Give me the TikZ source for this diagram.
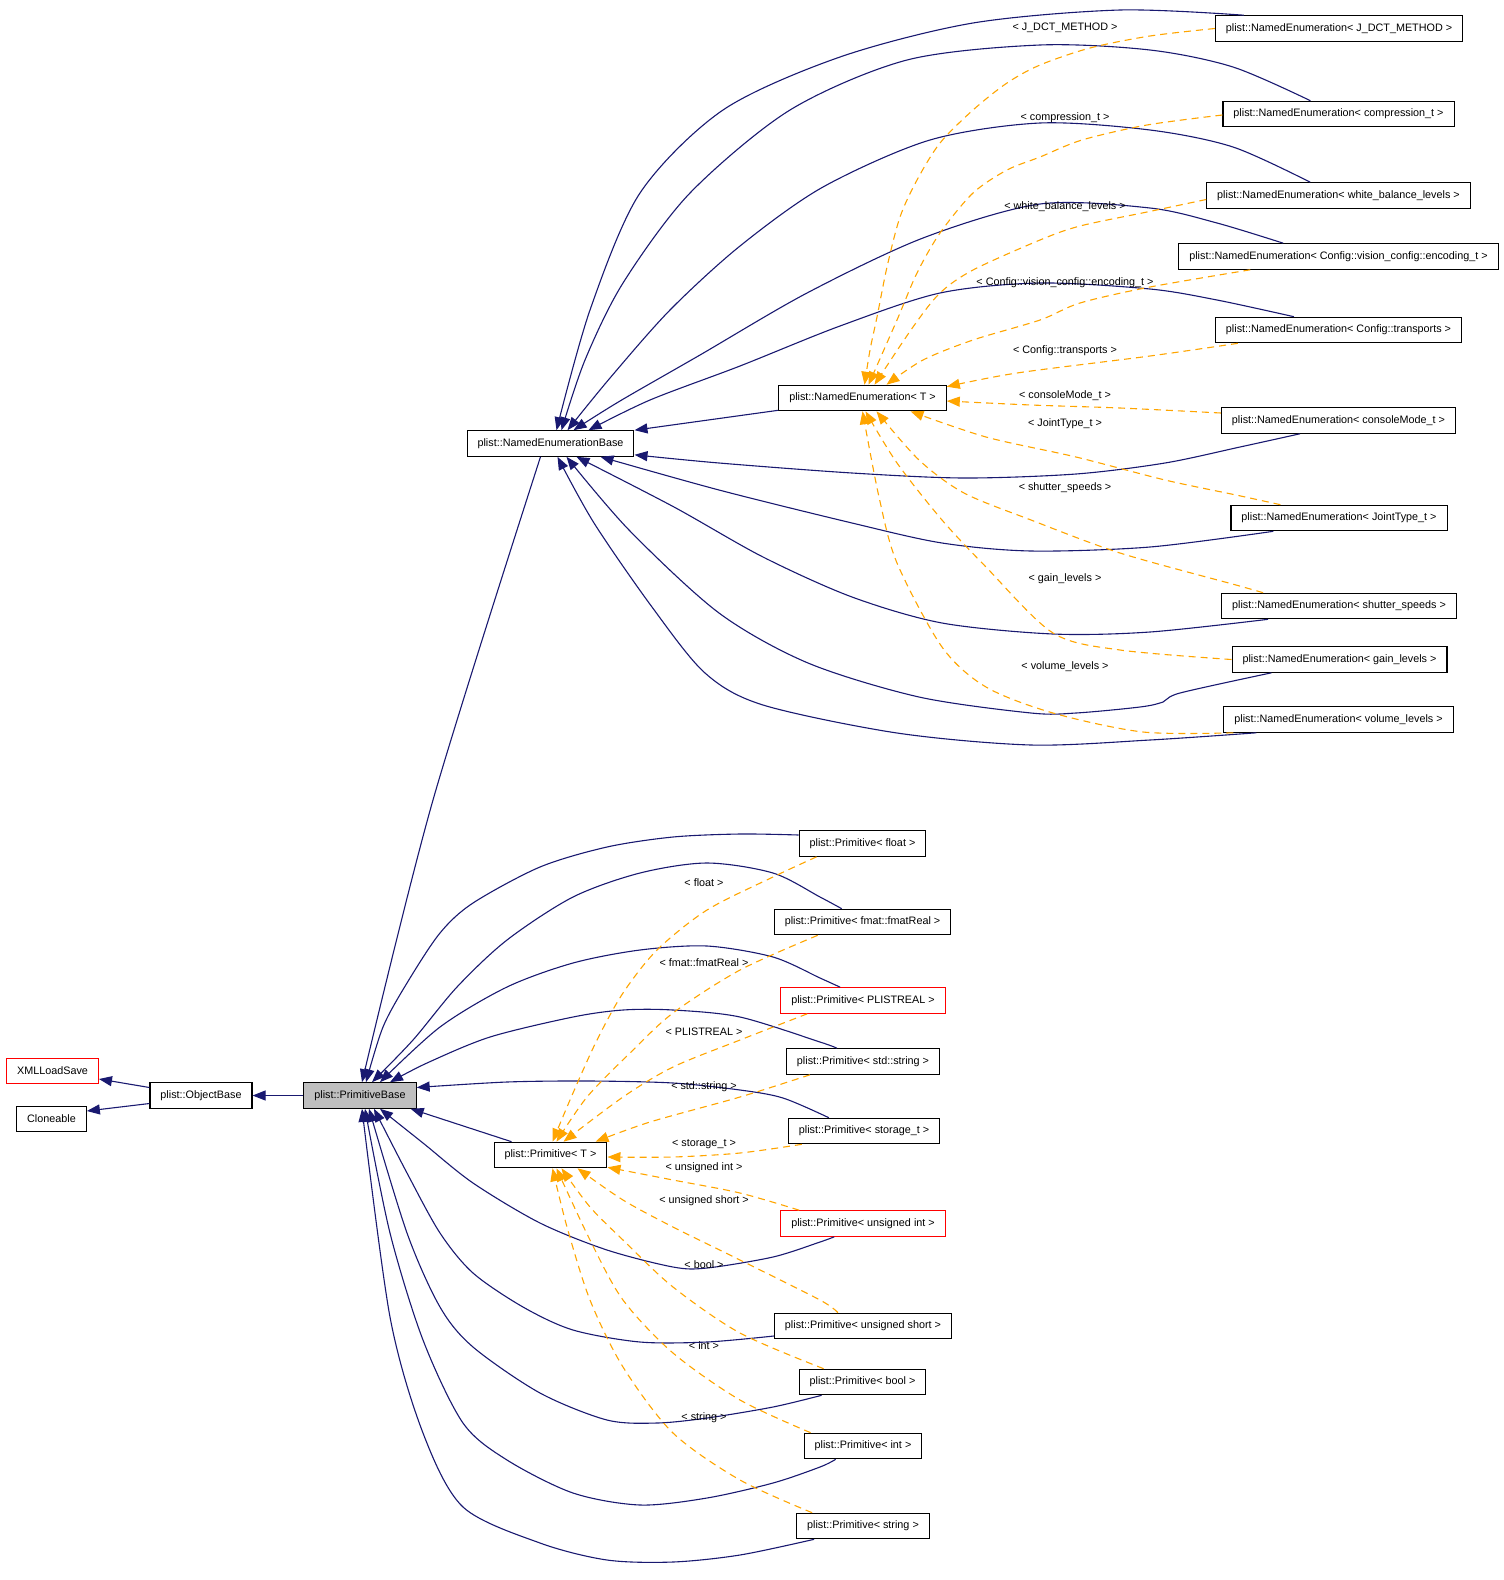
\documentclass[tikz,border=0pt]{standalone}
\usepackage{fontspec}
\setmainfont{Liberation Sans}
\usetikzlibrary{arrows.meta}
\definecolor{edgeblue}{HTML}{191970}
\definecolor{edgeorange}{HTML}{FFA500}
\definecolor{boxred}{HTML}{FF0000}
\definecolor{basegray}{HTML}{BFBFBF}

\begin{document}
\begin{tikzpicture}[x=1pt,y=1pt,
  cls/.style={draw=black, line width=1.1pt, inner xsep=10.5pt, inner ysep=0pt, minimum height=25.5pt},
  undoc/.style={cls, draw=boxred},
  inh/.style={draw=edgeblue, line width=1.1pt, -{Triangle[length=13pt,width=10pt]}},
  inst/.style={draw=edgeorange, line width=1.1pt, dash pattern=on 7pt off 5pt, -{Triangle[length=13pt,width=10pt]}}]
\tikzstyle{every node}+=[font=\fontsize{10.8}{13}\selectfont]
\useasboundingbox (0,0) rectangle (1504,-1580);
% base classes
\node [undoc] (xml) at (52.5,-1071) {XMLLoadSave};
\node [cls] (clone) at (51.5,-1119) {Cloneable};
\node [cls] (ob) at (201,-1095.5) {plist::ObjectBase};
\node [cls, fill=basegray] (pb) at (360,-1095.5) {plist::PrimitiveBase};
\node [cls] (neb) at (550.5,-443.5) {plist::NamedEnumerationBase};
\node [cls] (net) at (862.5,-398) {plist::NamedEnumeration< T >};
\node [cls] (pt) at (550.5,-1155) {plist::Primitive< T >};
% enumeration instances
\node [cls] (jdct) at (1339,-28.5) {plist::NamedEnumeration< J\_DCT\_METHOD >};
\node [cls] (comp) at (1338.5,-114) {plist::NamedEnumeration< compression\_t >};
\node [cls] (wbl) at (1338.5,-195.5) {plist::NamedEnumeration< white\_balance\_levels >};
\node [cls] (enc) at (1338.5,-256.5) {plist::NamedEnumeration< Config::vision\_config::encoding\_t >};
\node [cls] (trans) at (1338.5,-330) {plist::NamedEnumeration< Config::transports >};
\node [cls] (cmode) at (1338.5,-420.5) {plist::NamedEnumeration< consoleMode\_t >};
\node [cls] (joint) at (1339,-518) {plist::NamedEnumeration< JointType\_t >};
\node [cls] (shut) at (1339,-606) {plist::NamedEnumeration< shutter\_speeds >};
\node [cls] (gain) at (1339.5,-659.5) {plist::NamedEnumeration< gain\_levels >};
\node [cls] (vol) at (1338.5,-719.5) {plist::NamedEnumeration< volume\_levels >};
% primitive instances
\node [cls] (pfloat) at (862.5,-843.5) {plist::Primitive< float >};
\node [cls] (pfmat) at (862.5,-922) {plist::Primitive< fmat::fmatReal >};
\node [undoc] (pplr) at (863,-1000.5) {plist::Primitive< PLISTREAL >};
\node [cls] (pstd) at (863,-1061.5) {plist::Primitive< std::string >};
\node [cls] (pstor) at (864,-1131) {plist::Primitive< storage\_t >};
\node [undoc] (puint) at (863,-1223.5) {plist::Primitive< unsigned int >};
\node [cls] (pushort) at (863,-1326) {plist::Primitive< unsigned short >};
\node [cls] (pbool) at (862.5,-1382) {plist::Primitive< bool >};
\node [cls] (pint) at (863,-1446) {plist::Primitive< int >};
\node [cls] (pstr) at (863,-1526) {plist::Primitive< string >};
% inheritance
\draw [inh] ([yshift=8]ob.west) -- ([yshift=-8]xml.east);
\draw [inh] ([yshift=-8]ob.west) -- ([yshift=8]clone.east);
\draw [inh] (pb) -- (ob);
\draw [inh] plot [smooth] coordinates {([xshift=-10]neb.south) (433,-800) ([xshift=2]pb.north)};
\draw [inh] ([yshift=1]net.south west) -- (neb.north east);
\draw [inh] ([xshift=18]pt.north west) -- ([xshift=-6]pb.south east);
\draw [inh] plot [smooth] coordinates {([xshift=29]jdct.north west) (1120,-10) (973,-23) (840,-57) (723,-110) (640,-193) (590,-310) ([xshift=6]neb.north)};
\draw [inh] plot [smooth] coordinates {([xshift=88]comp.north west) (1233,-67) (1150,-50) (1040,-45) (907,-60) (790,-110) (690,-193) (623,-283) (585,-360) ([xshift=11]neb.north)};
\draw [inh] plot [smooth] coordinates {([xshift=104]wbl.north west) (1233,-147) (1150,-130) (1040,-123) (930,-140) (823,-187) (740,-246) (670,-310) (610,-378) ([xshift=17]neb.north)};
\draw [inh] plot [smooth] coordinates {([xshift=105]enc.north west) (1217,-223) (1150,-208) (1040,-204) (923,-238) (807,-293) (700,-355) (620,-401) ([xshift=23]neb.north)};
\draw [inh] plot [smooth] coordinates {([xshift=79]trans.north west) (1217,-300) (1150,-289) (1040,-283) (940,-293) (840,-326) (740,-366) (650,-400) ([xshift=38]neb.north)};
\draw [inh] plot [smooth] coordinates {([xshift=79]cmode.south west) (1240,-447) (1165,-463) (1076,-474) (964,-478) (852,-473) (719,-463) ([yshift=2]neb.south east)};
\draw [inh] plot [smooth] coordinates {([xshift=43]joint.south west) (1150,-547) (1031,-551) (942,-543) (852,-523) (719,-490) ([xshift=50]neb.south)};
\draw [inh] plot [smooth] coordinates {([xshift=47]shut.south west) (1150,-632) (1053,-634) (942,-623) (852,-597) (763,-557) (674,-507) ([xshift=26]neb.south)};
\draw [inh] plot [smooth] coordinates {([xshift=40]gain.south west) (1180,-693) (1163,-702) (1140,-707) (1076,-713) (1031,-713) (919,-697) (808,-663) (719,-613) (629,-530) ([xshift=16]neb.south)};
\draw [inh] plot [smooth] coordinates {([xshift=33]vol.south west) (1150,-740) (1031,-745) (897,-733) (763,-705) (705,-673) (652,-607) (594,-523) ([xshift=7]neb.south)};
\draw [inh] plot [smooth] coordinates {([yshift=8.5]pfloat.west) (740,-834) (673,-837) (607,-847) (540,-867) (473,-903) (440,-933) (407,-983) (383,-1027) ([xshift=6]pb.north)};
\draw [inh] plot [smooth] coordinates {([xshift=68]pfmat.north west) (820,-897) (773,-873) (707,-863) (640,-873) (573,-897) (507,-940) (457,-987) (413,-1040) ([xshift=12]pb.north)};
\draw [inh] plot [smooth] coordinates {([xshift=60]pplr.north west) (820,-978) (773,-957) (707,-946) (640,-950) (573,-963) (507,-987) (440,-1027) ([xshift=20]pb.north)};
\draw [inh] plot [smooth] coordinates {([xshift=51]pstd.north west) (820,-1042) (740,-1017) (673,-1010) (623,-1010) (573,-1017) (490,-1037) (427,-1063) ([xshift=30]pb.north)};
\draw [inh] plot [smooth] coordinates {([xshift=41]pstor.north west) (783,-1098) (740,-1090) (673,-1083) (590,-1081) (507,-1082) ([yshift=8]pb.east)};
\draw [inh] plot [smooth] coordinates {([xshift=54]puint.south west) (820,-1242) (773,-1257) (707,-1268) (673,-1267) (607,-1250) (540,-1223) (473,-1183) (423,-1143) ([xshift=20]pb.south)};
\draw [inh] plot [smooth] coordinates {([yshift=-10]pushort.west) (707,-1342) (640,-1342) (573,-1330) (523,-1307) (473,-1273) (440,-1233) (407,-1173) ([xshift=14]pb.south)};
\draw [inh] plot [smooth] coordinates {([xshift=23]pbool.south west) (773,-1407) (707,-1418) (657,-1423) (607,-1420) (540,-1393) (473,-1347) (440,-1307) (407,-1233) ([xshift=9]pb.south)};
\draw [inh] plot [smooth] coordinates {([xshift=32]pint.south west) (820,-1467) (773,-1483) (707,-1498) (640,-1505) (573,-1493) (507,-1460) (463,-1423) (423,-1340) (390,-1233) ([xshift=5]pb.south)};
\draw [inh] plot [smooth] coordinates {([xshift=18]pstr.south west) (740,-1555) (673,-1562) (607,-1560) (540,-1543) (463,-1507) (423,-1433) (390,-1317) ([xshift=2]pb.south)};
% template instantiation
\draw [inst] plot [smooth] coordinates {(jdct.west) (1150,-36) (1090,-48) (1040,-65) (1007,-83) (973,-110) (940,-143) (917,-180) (900,-217) (887,-267) (877,-317) (870,-350) ([xshift=2]net.north)};
\draw [inst] plot [smooth] coordinates {([yshift=-1]comp.west) (1147,-125) (1082,-140) (1040,-157) (1007,-170) (973,-193) (940,-233) (917,-273) (897,-320) ([xshift=6]net.north)};
\draw [inst] plot [smooth] coordinates {([yshift=-4]wbl.west) (1147,-212) (1080,-226) (1040,-240) (973,-270) (940,-293) (913,-327) ([xshift=12]net.north)};
\draw [inst] plot [smooth] coordinates {([xshift=72]enc.south west) (1150,-287) (1080,-303) (1040,-320) (973,-340) (923,-360) ([xshift=24]net.north)};
\draw [inst] plot [smooth] coordinates {([xshift=23]trans.south west) (1150,-356) (1017,-373) ([yshift=-2]net.north east)};
\draw [inst] plot [smooth] coordinates {([yshift=7.5]cmode.west) (1120,-408) (1031,-405) ([yshift=-3]net.east)};
\draw [inst] plot [smooth] coordinates {([xshift=50]joint.north west) (1236,-495) (1165,-480) (1076,-457) (986,-437) ([xshift=48]net.south)};
\draw [inst] plot [smooth] coordinates {([xshift=42]shut.north west) (1236,-585) (1120,-553) (1031,-520) (964,-493) (919,-460) ([xshift=14]net.south)};
\draw [inst] plot [smooth] coordinates {(gain.west) (1120,-650) (1053,-633) (986,-567) (942,-520) (897,-463) ([xshift=3]net.south)};
\draw [inst] plot [smooth] coordinates {([xshift=10]vol.south west) (1143,-732) (1053,-713) (986,-687) (942,-647) (897,-563) (879,-497) (net.south)};
\draw [inst] plot [smooth] coordinates {([xshift=18]pfloat.south west) (773,-877) (707,-910) (657,-950) (623,-993) (597,-1040) (573,-1093) ([xshift=2]pt.north)};
\draw [inst] plot [smooth] coordinates {([xshift=44]pfmat.south west) (740,-970) (673,-1013) (630,-1053) (587,-1097) ([xshift=6]pt.north)};
\draw [inst] plot [smooth] coordinates {([xshift=27]pplr.south west) (740,-1040) (673,-1067) (623,-1097) ([xshift=13]pt.north)};
\draw [inst] plot [smooth] coordinates {([xshift=24]pstd.south west) (740,-1097) (650,-1122) ([xshift=45]pt.north)};
\draw [inst] plot [smooth] coordinates {([xshift=14]pstor.south west) (740,-1153) (673,-1157) ([yshift=-2]pt.east)};
\draw [inst] plot [smooth] coordinates {([xshift=19]puint.north west) (740,-1193) (673,-1180) ([yshift=1]pt.south east)};
\draw [inst] plot [smooth] coordinates {([xshift=64]pushort.north west) (820,-1300) (740,-1260) (673,-1227) (623,-1200) ([xshift=27]pt.south)};
\draw [inst] plot [smooth] coordinates {([xshift=25]pbool.north west) (740,-1333) (673,-1287) (623,-1240) (590,-1207) ([xshift=11]pt.south)};
\draw [inst] plot [smooth] coordinates {([xshift=7]pint.north west) (740,-1400) (673,-1353) (623,-1300) (590,-1240) ([xshift=6]pt.south)};
\draw [inst] plot [smooth] coordinates {([xshift=16]pstr.north west) (740,-1480) (673,-1433) (623,-1367) (590,-1300) (567,-1227) ([xshift=2]pt.south)};
% template arguments
\node (ljdct) at (1065,-28) {< J\_DCT\_METHOD >};
\node (lcomp) at (1065,-118) {< compression\_t >};
\node (lwbl) at (1065,-207) {< white\_balance\_levels >};
\node (lenc) at (1065,-283) {< Config::vision\_config::encoding\_t >};
\node (ltrans) at (1065,-351) {< Config::transports >};
\node (lcmode) at (1065,-396) {< consoleMode\_t >};
\node (ljoint) at (1065,-424) {< JointType\_t >};
\node (lshut) at (1065,-488) {< shutter\_speeds >};
\node (lgain) at (1065,-579) {< gain\_levels >};
\node (lvol) at (1065,-667) {< volume\_levels >};
\node (lfloat) at (704,-883) {< float >};
\node (lfmat) at (704,-963) {< fmat::fmatReal >};
\node (lplr) at (704,-1032) {< PLISTREAL >};
\node (lstd) at (704,-1087) {< std::string >};
\node (lstor) at (704,-1144) {< storage\_t >};
\node (luint) at (704,-1168) {< unsigned int >};
\node (lushort) at (704,-1201) {< unsigned short >};
\node (lbool) at (704,-1265) {< bool >};
\node (lint) at (704,-1346) {< int >};
\node (lstr) at (704,-1418) {< string >};
\end{tikzpicture}
\end{document}
